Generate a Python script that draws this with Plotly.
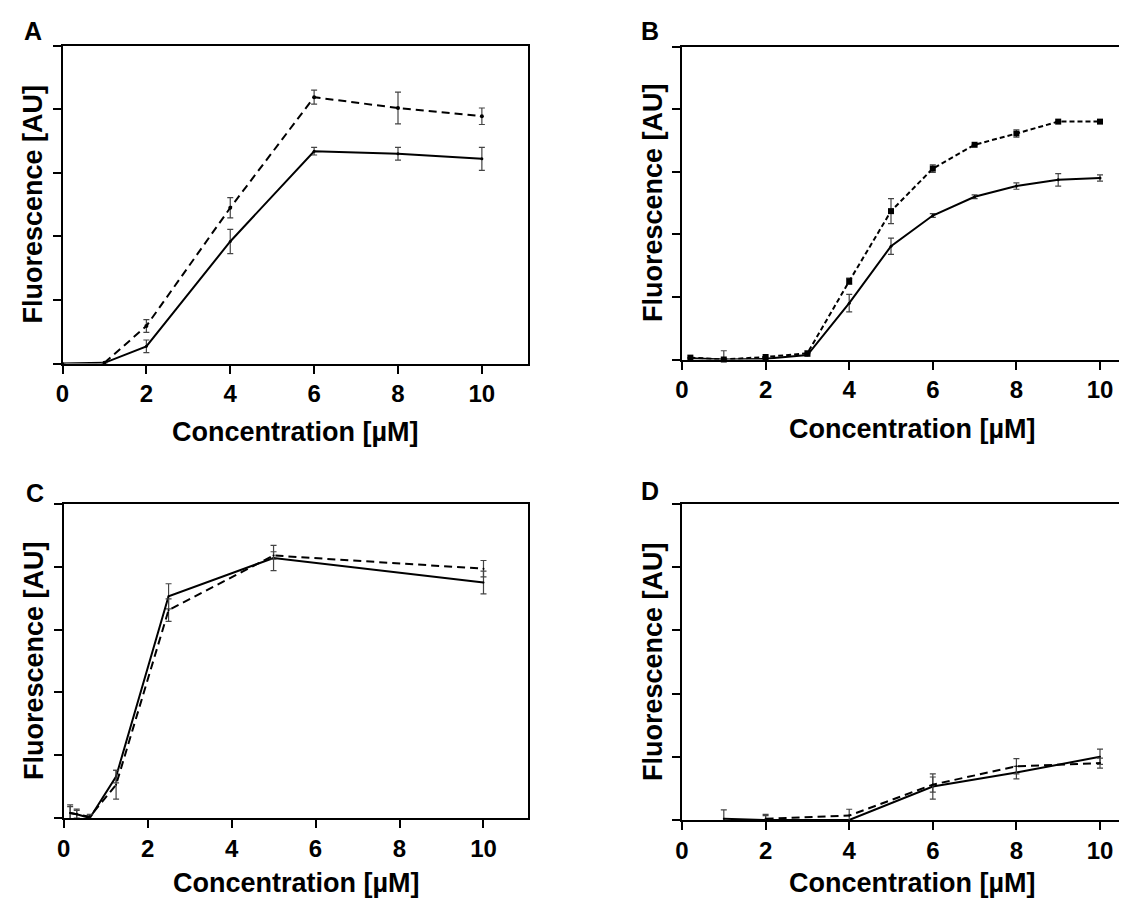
import plotly.graph_objects as go

# ---------------- data ----------------
# Panel A
a_x_solid = [0, 1, 2, 4, 6, 8, 10]
a_y_solid = [0.0, 0.01, 0.27, 1.92, 3.34, 3.30, 3.22]
a_e_solid = [0.0, 0.0, 0.10, 0.19, 0.06, 0.10, 0.18]
a_x_dash = [1, 2, 4, 6, 8, 10]
a_y_dash = [0.01, 0.59, 2.45, 4.19, 4.02, 3.89]
a_e_dash = [0.0, 0.10, 0.16, 0.11, 0.25, 0.13]

# Panel B
b_x = [0.2, 1, 2, 3, 4, 5, 6, 7, 8, 9, 10]
b_y_solid = [0.02, 0.0, 0.01, 0.07, 0.90, 1.81, 2.30, 2.60, 2.77, 2.87, 2.90]
b_e_solid = [0.0, 0.0, 0.0, 0.02, 0.14, 0.13, 0.03, 0.03, 0.05, 0.10, 0.05]
b_y_dash = [0.03, 0.0, 0.04, 0.10, 1.25, 2.37, 3.05, 3.43, 3.61, 3.80, 3.80]
b_e_dash = [0.0, 0.14, 0.0, 0.0, 0.05, 0.20, 0.06, 0.0, 0.06, 0.0, 0.0]

# Panel C
c_x = [0.156, 0.3125, 0.625, 1.25, 2.5, 5, 10]
c_y_solid = [0.08, 0.06, 0.0, 0.66, 3.53, 4.14, 3.75]
c_e_solid = [0.13, 0.08, 0.05, 0.10, 0.20, 0.20, 0.18]
c_y_dash = [0.08, 0.06, 0.02, 0.53, 3.31, 4.18, 3.97]
c_e_dash = [0.10, 0.06, 0.04, 0.23, 0.18, 0.06, 0.13]

# Panel D
d_x_solid = [1, 2, 4, 6, 8, 10]
d_y_solid = [0.02, 0.0, 0.0, 0.53, 0.75, 1.00]
d_e_solid = [0.14, 0.09, 0.0, 0.20, 0.10, 0.12]
d_x_dash = [2, 4, 6, 8, 10]
d_y_dash = [0.02, 0.07, 0.56, 0.85, 0.90]
d_e_dash = [0.05, 0.10, 0.12, 0.12, 0.08]

x_ticks = [0, 2, 4, 6, 8, 10]
y_ticks = [0, 1, 2, 3, 4, 5]
panel_labels = ["A", "B", "C", "D"]
x_title = "Concentration [µM]"
y_title = "Fluorescence [AU]"

# ---------------- figure ----------------
W, H = 1127, 898
FONT = "Liberation Sans, Arial, Helvetica, sans-serif"
ERR_COLOR = "#444444"

fig = go.Figure()


def add_series(x, y, e, axis_idx, dash, marker_symbol="circle", marker_size=4):
    xa = "x" if axis_idx == 1 else f"x{axis_idx}"
    ya = "y" if axis_idx == 1 else f"y{axis_idx}"
    fig.add_trace(go.Scatter(
        x=x, y=y, xaxis=xa, yaxis=ya,
        mode="lines+markers",
        line=dict(color="black", width=2, dash=dash),
        marker=dict(color="black", size=marker_size, symbol=marker_symbol),
        error_y=dict(type="data", array=e, visible=True, color=ERR_COLOR,
                     thickness=1.2, width=3),
        showlegend=False, cliponaxis=False,
    ))


add_series(a_x_solid, a_y_solid, a_e_solid, 1, "solid", marker_size=3)
add_series(a_x_dash, a_y_dash, a_e_dash, 1, "8px,5px", marker_size=4)
add_series(b_x, b_y_solid, b_e_solid, 2, "solid", marker_size=3)
add_series(b_x, b_y_dash, b_e_dash, 2, "5px,3px", marker_symbol="square", marker_size=6)
add_series(c_x, c_y_solid, c_e_solid, 3, "solid", marker_size=2)
add_series(c_x, c_y_dash, c_e_dash, 3, "8px,5px", marker_size=2)
add_series(d_x_solid, d_y_solid, d_e_solid, 4, "solid", marker_size=2)
add_series(d_x_dash, d_y_dash, d_e_dash, 4, "8px,5px", marker_size=2)

# pixel layout of plot areas: (left, right, top, bottom, xmax, x-title y, y-title x)
areas = [
    (54.5, 520.0, 37.7, 355.5, 11.1, 424, 25),
    (674.0, 1127.0, 38.5, 351.5, (1127 - 674) / 41.8, 421, 645),
    (55.6, 520.0, 496.0, 810.0, 11.06, 875, 26),
    (674.0, 1127.0, 496.0, 812.0, (1127 - 674) / 41.8, 875, 645),
]
xtitle_centers = [287, 904, 288, 904]

layout = dict(
    width=W, height=H,
    margin=dict(l=0, r=0, t=0, b=0, autoexpand=False),
    paper_bgcolor="white", plot_bgcolor="white",
    font=dict(family=FONT, color="black"),
)

annotations = []
for i, (l, r, t, b, xmax, xty, ytx) in enumerate(areas, start=1):
    xk = "xaxis" if i == 1 else f"xaxis{i}"
    yk = "yaxis" if i == 1 else f"yaxis{i}"
    full_box = i in (1, 3)
    layout[xk] = dict(
        domain=[l / W, r / W], anchor="y" if i == 1 else f"y{i}",
        range=[0, xmax], tickvals=x_ticks, ticktext=[str(v) for v in x_ticks],
        ticks="outside", ticklen=8, tickwidth=2, tickcolor="black",
        showline=True, linewidth=2, linecolor="black", mirror=True,
        showgrid=False, zeroline=False, automargin=False,
        tickfont=dict(family=FONT, size=24, color="black", weight="bold"),
    )
    layout[yk] = dict(
        domain=[1 - b / H, 1 - t / H], anchor="x" if i == 1 else f"x{i}",
        range=[0, 5], tickvals=y_ticks, showticklabels=False,
        ticks="outside", ticklen=8, tickwidth=2, tickcolor="black",
        showline=True, linewidth=2, linecolor="black", mirror=full_box,
        showgrid=False, zeroline=False, automargin=False,
    )
    # axis titles
    annotations.append(dict(
        text=x_title, x=xtitle_centers[i - 1] / W, y=1 - xty / H,
        xref="paper", yref="paper", xanchor="center", yanchor="middle",
        showarrow=False,
        font=dict(family=FONT, size=27, color="black", weight="bold"),
    ))
    annotations.append(dict(
        text=y_title, x=ytx / W, y=1 - ((t + b) / 2) / H,
        xref="paper", yref="paper", xanchor="center", yanchor="middle",
        textangle=-90, showarrow=False,
        font=dict(family=FONT, size=27, color="black", weight="bold"),
    ))

label_pos = [(25, 23), (642, 23), (27, 485), (642, 483)]
for lab, (px, py) in zip(panel_labels, label_pos):
    annotations.append(dict(
        text=lab, x=px / W, y=1 - py / H, xref="paper", yref="paper",
        xanchor="center", yanchor="middle", showarrow=False,
        font=dict(family=FONT, size=25, color="black", weight="bold"),
    ))
layout["annotations"] = annotations

fig.update_layout(**layout)
fig.write_html("out.html")
